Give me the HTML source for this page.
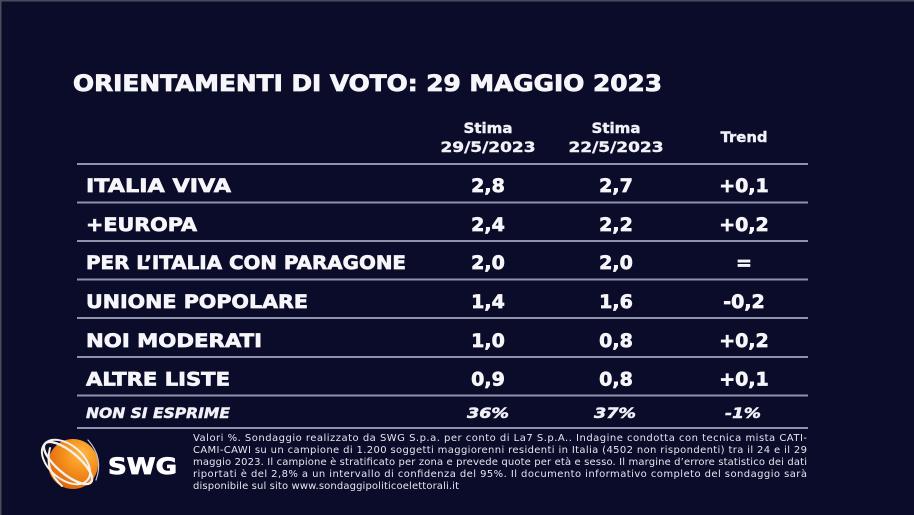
<!DOCTYPE html>
<html>
<head>
<meta charset="utf-8">
<style>
html,body{margin:0;padding:0;background:#0a0c29;}
svg{display:block;}
text{font-family:"DejaVu Sans","Liberation Sans",sans-serif;}
</style>
</head>
<body>
<svg width="914" height="515" viewBox="0 0 914 515" xmlns="http://www.w3.org/2000/svg">
<defs>
<radialGradient id="sph" cx="0.68" cy="0.3" r="0.8">
<stop offset="0" stop-color="#ffb845"/>
<stop offset="0.45" stop-color="#f5901c"/>
<stop offset="1" stop-color="#dc600e"/>
</radialGradient>
</defs>
<rect x="0" y="0" width="914" height="515" fill="#0a0c29"/>
<rect x="0" y="0" width="914" height="1.5" fill="#4a4c5e"/>
<rect x="0" y="0" width="1.5" height="515" fill="#4a4c5e"/>

<!-- Title -->
<text x="73" y="91" font-size="22" font-weight="bold" fill="#f6f6fa" stroke="#f6f6fa" stroke-width="0.8" textLength="589" lengthAdjust="spacingAndGlyphs">ORIENTAMENTI DI VOTO: 29 MAGGIO 2023</text>

<!-- Headers -->
<g font-weight="bold" fill="#f0f0f6" stroke="#f0f0f6" stroke-width="0.4" text-anchor="middle">
<text x="488" y="133" font-size="14" textLength="49" lengthAdjust="spacingAndGlyphs">Stima</text>
<text x="488" y="152" font-size="14" textLength="95" lengthAdjust="spacingAndGlyphs">29/5/2023</text>
<text x="616" y="133" font-size="14" textLength="49" lengthAdjust="spacingAndGlyphs">Stima</text>
<text x="616" y="152" font-size="14" textLength="95" lengthAdjust="spacingAndGlyphs">22/5/2023</text>
<text x="744" y="142" font-size="14" textLength="47" lengthAdjust="spacingAndGlyphs">Trend</text>
</g>

<!-- Row lines -->
<g stroke="#8e92ad" stroke-width="2">
<line x1="77" y1="164" x2="808" y2="164"/>
<line x1="77" y1="202.5" x2="808" y2="202.5"/>
<line x1="77" y1="241" x2="808" y2="241"/>
<line x1="77" y1="279.5" x2="808" y2="279.5"/>
<line x1="77" y1="318" x2="808" y2="318"/>
<line x1="77" y1="357" x2="808" y2="357"/>
<line x1="77" y1="395.5" x2="808" y2="395.5"/>
<line x1="77" y1="428" x2="808" y2="428"/>
</g>

<!-- Row labels -->
<g font-size="19" font-weight="bold" fill="#f6f6fa" stroke="#f6f6fa" stroke-width="0.7">
<text x="86" y="192" textLength="145" lengthAdjust="spacingAndGlyphs">ITALIA VIVA</text>
<text x="86" y="231" textLength="111" lengthAdjust="spacingAndGlyphs">+EUROPA</text>
<text x="86" y="269" textLength="320" lengthAdjust="spacingAndGlyphs">PER L’ITALIA CON PARAGONE</text>
<text x="86" y="308" textLength="222" lengthAdjust="spacingAndGlyphs">UNIONE POPOLARE</text>
<text x="86" y="347" textLength="176" lengthAdjust="spacingAndGlyphs">NOI MODERATI</text>
<text x="86" y="385.5" textLength="144" lengthAdjust="spacingAndGlyphs">ALTRE LISTE</text>
</g>

<!-- Values -->
<g font-size="19" font-weight="bold" fill="#f6f6fa" stroke="#f6f6fa" stroke-width="0.7" text-anchor="middle">
<text x="488" y="192">2,8</text><text x="616" y="192">2,7</text><text x="744" y="192">+0,1</text>
<text x="488" y="231">2,4</text><text x="616" y="231">2,2</text><text x="744" y="231">+0,2</text>
<text x="488" y="269">2,0</text><text x="616" y="269">2,0</text><text x="744" y="269">=</text>
<text x="488" y="308">1,4</text><text x="616" y="308">1,6</text><text x="744" y="308">-0,2</text>
<text x="488" y="347">1,0</text><text x="616" y="347">0,8</text><text x="744" y="347">+0,2</text>
<text x="488" y="385.5">0,9</text><text x="616" y="385.5">0,8</text><text x="744" y="385.5">+0,1</text>
</g>

<!-- Non si esprime -->
<g font-size="14.5" font-weight="bold" font-style="italic" fill="#f0f0f6" stroke="#f0f0f6" stroke-width="0.5">
<text x="86" y="418" textLength="144" lengthAdjust="spacingAndGlyphs">NON SI ESPRIME</text>
<text x="488" y="418" text-anchor="middle" textLength="42" lengthAdjust="spacingAndGlyphs">36%</text>
<text x="615" y="418" text-anchor="middle" textLength="42" lengthAdjust="spacingAndGlyphs">37%</text>
<text x="743" y="418" text-anchor="middle" textLength="36" lengthAdjust="spacingAndGlyphs">-1%</text>
</g>

<!-- Footnote -->
<g font-size="10" fill="#e6e6ee">
<text x="193" y="441" textLength="614" lengthAdjust="spacing">Valori %. Sondaggio realizzato da SWG S.p.a. per conto di La7 S.p.A.. Indagine condotta con tecnica mista CATI-</text>
<text x="193" y="453" textLength="614" lengthAdjust="spacing">CAMI-CAWI su un campione di 1.200 soggetti maggiorenni residenti in Italia (4502 non rispondenti) tra il 24 e il 29</text>
<text x="193" y="465" textLength="614" lengthAdjust="spacing">maggio 2023. Il campione è stratificato per zona e prevede quote per età e sesso. Il margine d’errore statistico dei dati</text>
<text x="193" y="477" textLength="614" lengthAdjust="spacing">riportati è del 2,8% a un intervallo di confidenza del 95%. Il documento informativo completo del sondaggio sarà</text>
<text x="193" y="489" textLength="266" lengthAdjust="spacing">disponibile sul sito www.sondaggipoliticoelettorali.it</text>
</g>

<!-- Logo -->
<g>
<circle cx="73" cy="464" r="25" fill="url(#sph)"/>
<g fill="none" stroke="#f4f0ea" stroke-linecap="round">
<ellipse cx="68" cy="463" rx="30" ry="11" transform="rotate(40 68 463)" stroke-width="2.4"/>
<ellipse cx="66" cy="462" rx="28" ry="17" transform="rotate(40 66 462)" stroke-width="2"/>
<path d="M50 448 Q44 470 62 486" stroke-width="2"/>
<path d="M88 440 Q104 458 96 480" stroke-width="1.2" stroke="#c9c6d0"/>
</g>
<text x="108" y="474" font-size="22" font-weight="bold" fill="#ffffff" stroke="#ffffff" stroke-width="0.8" textLength="69" lengthAdjust="spacingAndGlyphs">SWG</text>
</g>
</svg>
</body>
</html>
